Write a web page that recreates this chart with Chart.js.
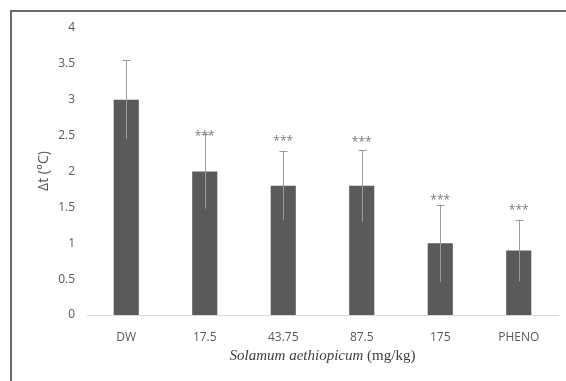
<!DOCTYPE html>
<html>
<head>
<meta charset="utf-8">
<script src="https://cdn.jsdelivr.net/npm/chart.js"></script>
<style>
  body { margin: 0; background: #fff; }
  #marco { position: absolute; left: 10px; top: 10px; width: 560px; height: 375px;
           border-left: 2px solid #6b6b6b; border-top: 2px solid #6b6b6b; }
  #caja { position: absolute; left: 0; top: 0; width: 566px; height: 381px; }
</style>
</head>
<body>
<div id="marco"></div>
<div id="caja"><canvas id="grafico"></canvas></div>
<script>
// datos
const dosis = ["DW", "17.5", "43.75", "87.5", "175", "PHENO"]
const deltaT = [3.0, 2.0, 1.8, 1.8, 1.0, 0.9]
const errores = [0.55, 0.52, 0.48, 0.5, 0.54, 0.43]
const estrellas = ["", "***", "***", "***", "***", "***"]
const alturaEstrellas = [null, 2.52, 2.44, 2.43, 1.62, 1.48]
const marcasY = [0, 0.5, 1, 1.5, 2, 2.5, 3, 3.5, 4]

// dibuja barras de error, asteriscos y titulos
const extras = {
    id: "extras",
    afterDatasetsDraw(chart) {
        const ctx = chart.ctx
        const y = chart.scales.y
        const barras = chart.getDatasetMeta(0).data
        ctx.save()
        ctx.strokeStyle = "#9a9a9a"
        ctx.lineWidth = 1
        barras.forEach((barra, i) => {
            const x = Math.round(barra.x) + 0.5
            const arriba = y.getPixelForValue(deltaT[i] + errores[i])
            const abajo = y.getPixelForValue(deltaT[i] - errores[i])
            ctx.beginPath()
            ctx.moveTo(x, abajo)
            ctx.lineTo(x, arriba)
            ctx.moveTo(x - 4, Math.round(arriba) + 0.5)
            ctx.lineTo(x + 4, Math.round(arriba) + 0.5)
            ctx.stroke()
        })
        ctx.fillStyle = "#7a7a7a"
        ctx.font = "12px 'Open Sans'"
        ctx.textAlign = "center"
        ctx.textBaseline = "middle"
        barras.forEach((barra, i) => {
            if (estrellas[i]) {
                ctx.fillText(estrellas[i], barra.x, y.getPixelForValue(alturaEstrellas[i]) + 2)
            }
        })

        // titulo eje y
        ctx.fillStyle = "#595959"
        ctx.font = "14px 'Open Sans'"
        ctx.translate(44, 171)
        ctx.rotate(-Math.PI / 2)
        ctx.fillText("Δt (°C)", 0, 0)
        ctx.restore()

        // titulo eje x, mezcla cursiva y normal
        ctx.save()
        ctx.fillStyle = "#404040"
        ctx.textBaseline = "middle"
        const parte1 = "Solamum aethiopicum"
        const parte2 = " (mg/kg)"
        ctx.font = "italic 15px 'Liberation Serif'"
        const w1 = ctx.measureText(parte1).width
        ctx.font = "15px 'Liberation Serif'"
        const w2 = ctx.measureText(parte2).width
        const x0 = (chart.chartArea.left + chart.chartArea.right) / 2 - (w1 + w2) / 2
        ctx.textAlign = "left"
        ctx.font = "italic 15px 'Liberation Serif'"
        ctx.fillText(parte1, x0, 356)
        ctx.font = "15px 'Liberation Serif'"
        ctx.fillText(parte2, x0 + w1, 356)
        ctx.restore()
    }
}

new Chart(document.getElementById("grafico"), {
    type: "bar",
    data: {
        labels: dosis,
        datasets: [{
            data: deltaT,
            backgroundColor: "#5a5a5a",
            borderWidth: 0,
            barPercentage: 1,
            categoryPercentage: 0.32
        }]
    },
    options: {
        responsive: true,
        maintainAspectRatio: false,
        animation: false,
        layout: { padding: { left: 0, top: 28, right: 8, bottom: 0 } },
        plugins: { legend: { display: false }, tooltip: { enabled: false } },
        scales: {
            x: {
                grid: { display: false, drawTicks: false },
                border: { display: true, color: "#d9d9d9", width: 1 },
                ticks: { color: "#595959", font: { family: "Open Sans", size: 12 }, padding: 15 },
                afterFit: (s) => { s.height = 66 }
            },
            y: {
                min: 0,
                max: 4,
                afterBuildTicks: (s) => { s.ticks = marcasY.map(v => ({ value: v })) },
                grid: { display: false, drawTicks: false },
                border: { display: false },
                ticks: {
                    color: "#595959",
                    font: { family: "Open Sans", size: 12 },
                    padding: 12,
                    callback: (v) => String(v)
                },
                afterFit: (s) => { s.width = 87 }
            }
        }
    },
    plugins: [extras]
})
</script>
</body>
</html>
